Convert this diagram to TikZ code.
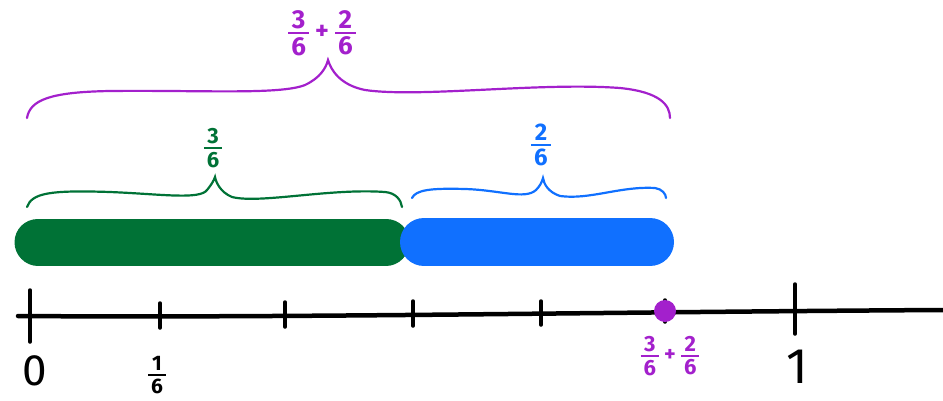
\documentclass[tikz,border=0pt]{standalone}
\usepackage{fontspec}
\setmainfont{Fira Sans}
\definecolor{fgreen}{RGB}{0,114,54}
\definecolor{fblue}{RGB}{16,112,255}
\definecolor{fpurple}{RGB}{163,32,204}
\newcommand{\fr}[3][1.8pt]{\ensuremath{\vcenter{\offinterlineskip\halign{\hfil\kern3pt##\kern3pt\hfil\cr #2\cr\noalign{\kern3pt\hrule height #1\kern3pt}#3\cr}}}}
\tikzset{
  axis/.style={line width=4.5pt, line cap=round, black},
  tick/.style={line width=3.5pt, line cap=round, black},
  bracestyle/.style={line width=2.2pt, line cap=round},
  lbl/.style={inner sep=0pt, font=\bfseries},
}
\begin{document}
\begin{tikzpicture}[x=1pt,y=-1pt]
\useasboundingbox (0,0) rectangle (943,400);
% number line
\coordinate (L0) at (18,316);
\coordinate (L1) at (943,310);
\draw[axis] (L0) .. controls (300,318) and (600,312) .. (L1);
% ticks
\draw[tick] (30,290) -- (30,342);
\draw[tick] (160,303) -- (160,328);
\draw[tick] (285,302) -- (285,327);
\draw[tick] (413,301) -- (413,326);
\draw[tick] (541,301) -- (541,325);
\draw[tick] (665,300) -- (665,322);
\draw[tick] (795,284) -- (795,334);
% point
\node[circle, fill=fpurple, minimum size=22pt, inner sep=0pt] (pt) at (665,311) {};
% axis labels
\node[inner sep=0pt, font=\fontsize{44}{44}\selectfont] (z) at (35,371) {0};
\node[lbl, font=\bfseries\fontsize{21}{21}\selectfont] (s) at (157,375) {\fr{1}{6}};
\node[inner sep=0pt, font=\fontsize{50}{50}\selectfont] (o) at (797,367) {1};
\node[lbl, text=fpurple, font=\bfseries\fontsize{22}{22}\selectfont] (sum) at (670,356) {\fr{3}{6} + \fr{2}{6}};
% bars
\draw[line width=47pt, line cap=round, fgreen] (38,242) -- (386,242);
\draw[line width=48pt, line cap=round, fblue] (424,242) -- (650,242);
% green brace
\draw[bracestyle, fgreen] (27,207) .. controls (32,193) and (50,190) .. (110,192)
  .. controls (160,194) and (200,200) .. (207,190) .. controls (212,184) and (214,180) .. (215,177)
  .. controls (216,182) and (220,192) .. (232,197) .. controls (260,204) and (330,188) .. (385,192)
  .. controls (396,193) and (401,200) .. (402,207);
\node[lbl, text=fgreen, font=\bfseries\fontsize{22}{22}\selectfont] (g) at (213,148) {\fr{3}{6}};
% blue brace
\draw[bracestyle, fblue] (412,198) .. controls (416,190) and (430,188) .. (465,189)
  .. controls (500,190) and (525,200) .. (536,190) .. controls (540,186) and (542,182) .. (543,178)
  .. controls (544,184) and (548,192) .. (560,196) .. controls (590,200) and (620,186) .. (655,188)
  .. controls (662,189) and (666,194) .. (666,198);
\node[lbl, text=fblue, font=\bfseries\fontsize{24}{24}\selectfont] (b) at (541,145) {\fr{2}{6}};
% purple brace
\draw[bracestyle, fpurple] (27,118) .. controls (30,100) and (50,92) .. (110,91)
  .. controls (200,90) and (280,95) .. (305,85) .. controls (320,78) and (326,68) .. (328,60)
  .. controls (331,70) and (340,85) .. (365,90) .. controls (420,98) and (540,82) .. (620,88)
  .. controls (660,92) and (670,105) .. (670,118);
\node[lbl, text=fpurple, font=\bfseries\fontsize{26}{26}\selectfont] (top) at (322,33) {\fr[2.2pt]{3}{6} + \fr[2.2pt]{2}{6}};
\end{tikzpicture}
\end{document}
